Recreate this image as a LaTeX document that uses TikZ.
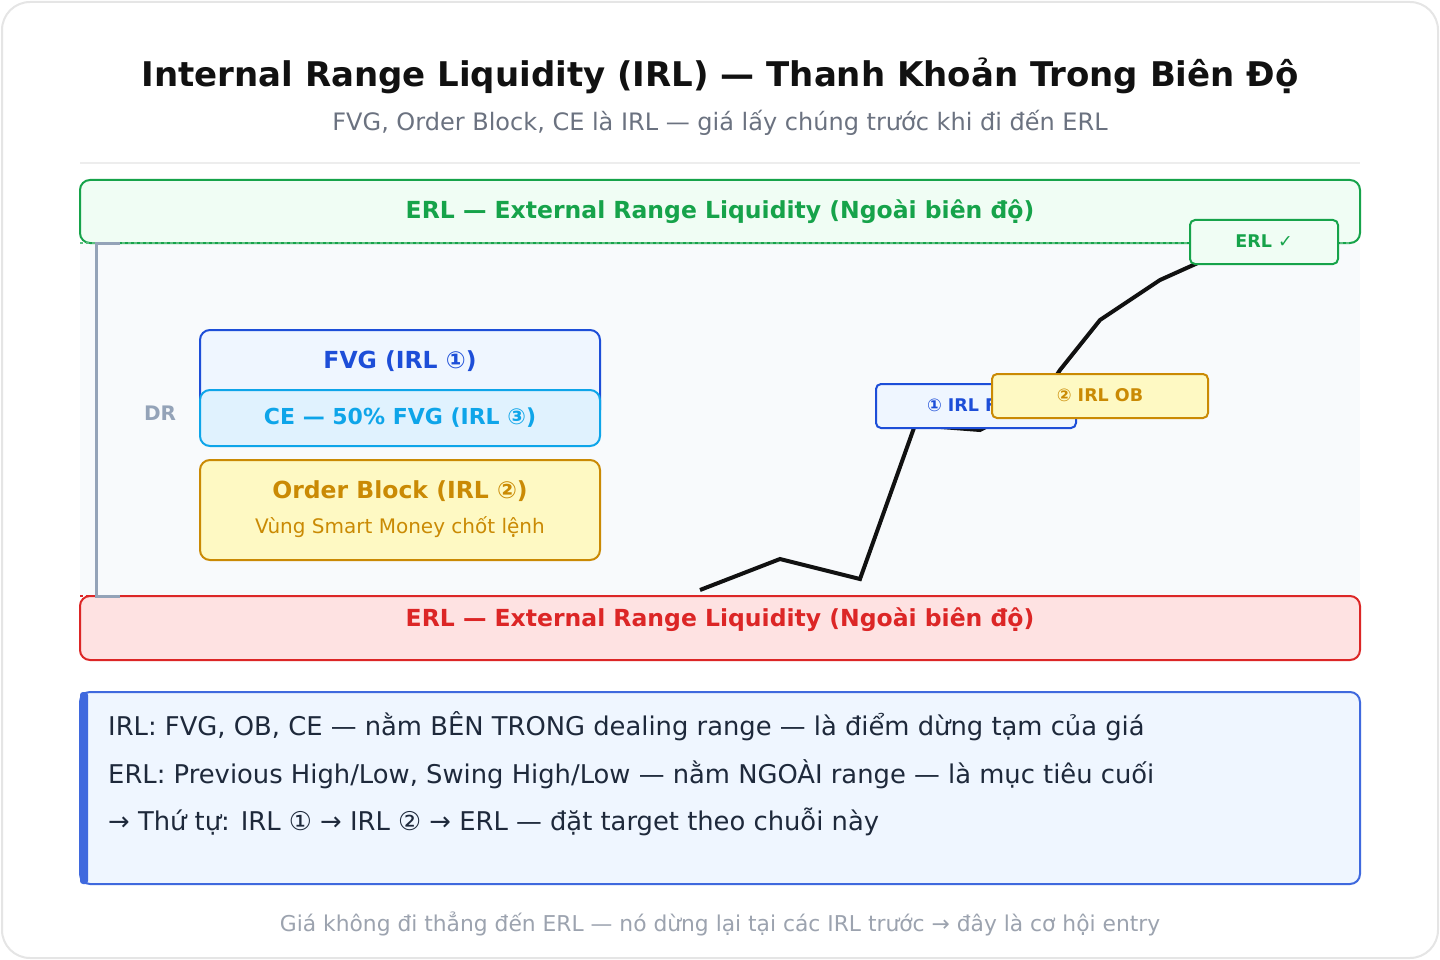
\documentclass[tikz,border=0pt]{standalone}
\usepackage{fontspec}
\setmainfont{DejaVu Sans}
\usetikzlibrary{positioning}
\definecolor{ink}{HTML}{111111}
\definecolor{muted}{HTML}{6B7280}
\definecolor{faint}{HTML}{9CA3AF}
\definecolor{gbord}{HTML}{16A34A}
\definecolor{gfill}{HTML}{F0FDF4}
\definecolor{rbord}{HTML}{DC2626}
\definecolor{rfill}{HTML}{FEE2E2}
\definecolor{bbord}{HTML}{1D4ED8}
\definecolor{bfill}{HTML}{EFF6FF}
\definecolor{cbord}{HTML}{0EA5E9}
\definecolor{cfill}{HTML}{E0F2FE}
\definecolor{obord}{HTML}{CA8A04}
\definecolor{ofill}{HTML}{FEF9C3}
\definecolor{slate}{HTML}{94A3B8}
\definecolor{zone}{HTML}{F8FAFC}
\definecolor{note}{HTML}{1E293B}
\tikzset{box/.style={rounded corners=10pt,line width=2pt},
  tag/.style={rounded corners=5pt,line width=2pt,font=\bfseries\fontsize{17.5}{20}\selectfont},
  band/.style={font=\bfseries\fontsize{23.5}{28}\selectfont},
  line/.style={font=\fontsize{25.8}{30}\selectfont,text=note,anchor=west,inner sep=0pt},
}

\begin{document}
\begin{tikzpicture}[x=1pt,y=-1pt]
				\useasboundingbox (0,0) rectangle (1440,960);
				\draw[rounded corners=28pt,line width=2pt,black!10,fill=white] (2,2) rectangle (1438,958);
				
				\node[font=\bfseries\fontsize{34}{40}\selectfont,text=ink] (title) at (720,76) {Internal Range Liquidity (IRL) — Thanh Khoản Trong Biên Độ};
				\node[font=\fontsize{24}{28}\selectfont,text=muted] (sub) at (720,123) {FVG, Order Block, CE là IRL — giá lấy chúng trước khi đi đến ERL};
				\draw[black!7,line width=1.5pt] (80,163) -- (1360,163);
				
				% dealing range
				\fill[zone] (80,243) rectangle (1360,596);
				\draw[box,draw=gbord,fill=gfill] (80,180) rectangle (1360,243);
				\node[band,text=gbord] (erlhi) at (720,212) {ERL — External Range Liquidity (Ngoài biên độ)};
				\draw[box,draw=rbord,fill=rfill] (80,596) rectangle (1360,660);
				\node[band,text=rbord] (erllo) at (720,620) {ERL — External Range Liquidity (Ngoài biên độ)};
				\draw[gbord!70,line width=2pt,dashed] (80,243) -- (1350,243);
				\draw[rbord,line width=2pt,dashed] (80,596) -- (1350,596);
				\draw[slate,line width=3pt] (120,243) -- (96,243) -- (96,596) -- (120,596);
				\node[font=\bfseries\fontsize{20}{24}\selectfont,text=slate] (dr) at (160,413) {DR};
				
				% IRL zones
				\draw[box,draw=bbord,fill=bfill] (200,330) rectangle (600,420);
				\node[band,text=bbord] (fvg) at (400,361) {FVG (IRL ①)};
				\draw[box,draw=cbord,fill=cfill] (200,390) rectangle (600,446);
				\node[band,text=cbord,font=\bfseries\fontsize{22}{26}\selectfont] (ce) at (400,418) {CE — 50\% FVG (IRL ③)};
				\draw[box,draw=obord,fill=ofill] (200,460) rectangle (600,560);
				\node[band,text=obord] (ob) at (400,491) {Order Block (IRL ②)};
				\node[text=obord,font=\fontsize{20}{24}\selectfont] (obsub) at (400,527) {Vùng Smart Money chốt lệnh};
				
				% price path
				\draw[ink,line width=4pt] (700,590) -- (780,559) -- (860,579) -- (915,425) -- (980,430) -- (1040,400) -- (1060,370) -- (1100,320) -- (1160,280) -- (1200,262);
				\draw[tag,draw=bbord,fill=bfill] (876,384) rectangle (1076,428);
				\node[tag,text=bbord,draw=none] (irl1) at (976,405) {① IRL FVG};
				\draw[tag,draw=obord,fill=ofill] (992,374) rectangle (1208,418);
				\node[tag,text=obord,draw=none] (irl2) at (1100,395) {② IRL OB};
				\draw[tag,draw=gbord,fill=gfill] (1190,220) rectangle (1338,264);
				\node[tag,text=gbord,draw=none] (erlt) at (1264,241) {ERL ✓};
				
				% note
				\draw[box,draw=bbord!85,fill=bfill] (80,692) rectangle (1360,884);
				\fill[bbord!85,rounded corners=3pt] (80,692) rectangle (88,884);
				\node[line] (n1) at (108,726) {IRL: FVG, OB, CE — nằm BÊN TRONG dealing range — là điểm dừng tạm của giá};
				\node[line] (n2) at (108,774) {ERL: Previous High/Low, Swing High/Low — nằm NGOÀI range — là mục tiêu cuối};
				\node[line] (n3) at (108,822) {→ Thứ tự: IRL ① → IRL ② → ERL — đặt target theo chuỗi này};
				\node[font=\fontsize{21.8}{26}\selectfont,text=faint] (foot) at (720,924) {Giá không đi thẳng đến ERL — nó dừng lại tại các IRL trước → đây là cơ hội entry};
			\end{tikzpicture}
\end{document}
